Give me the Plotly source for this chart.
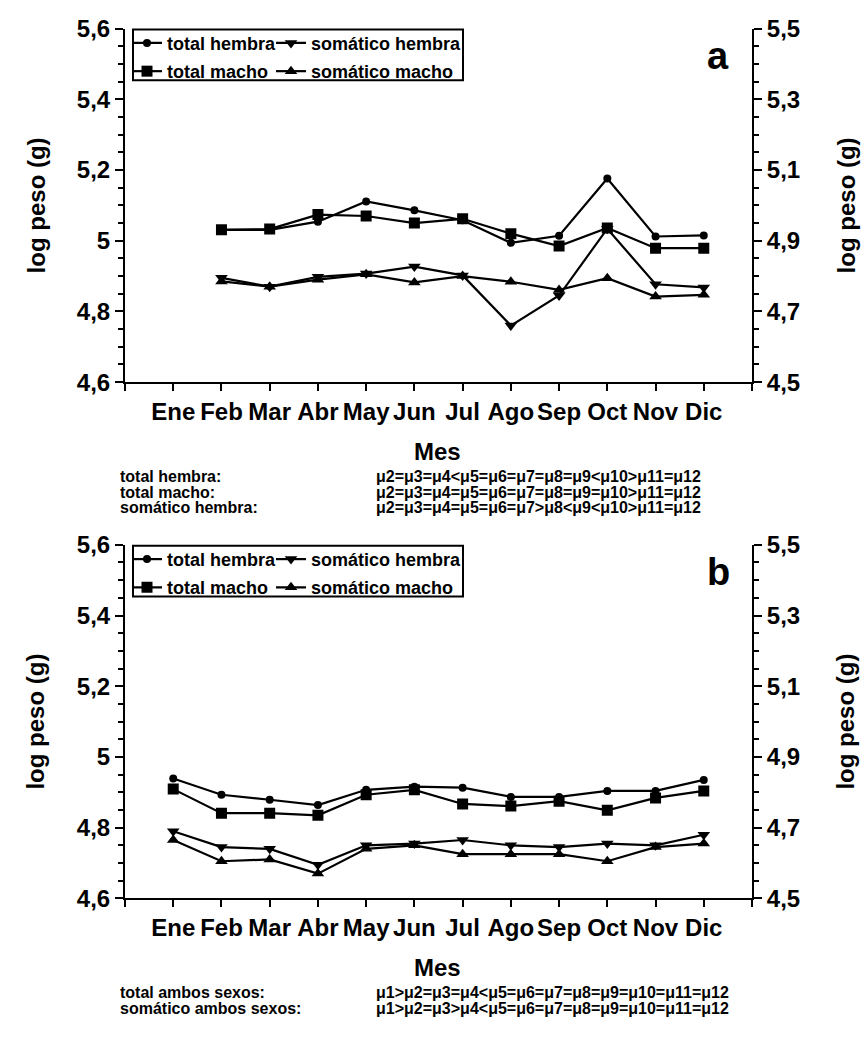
import plotly.graph_objects as go

W, H = 868, 1037

MESES = ["Ene", "Feb", "Mar", "Abr", "May", "Jun", "Jul", "Ago", "Sep", "Oct", "Nov", "Dic"]

# Panel a: months Feb-Dic
meses_a = MESES[1:]
total_hembra_a = [5.031, 5.031, 5.054, 5.111, 5.086, 5.058, 4.994, 5.014, 5.176, 5.012, 5.015]
total_macho_a = [5.031, 5.033, 5.074, 5.070, 5.050, 5.062, 5.020, 4.985, 5.036, 4.979, 4.979]
somatico_hembra_a = [4.895, 4.870, 4.898, 4.907, 4.927, 4.902, 4.760, 4.845, 5.034, 4.877, 4.868]
somatico_macho_a = [4.885, 4.870, 4.890, 4.905, 4.882, 4.900, 4.884, 4.861, 4.894, 4.842, 4.847]

# Panel b: months Ene-Dic
meses_b = MESES
total_hembra_b = [4.939, 4.893, 4.879, 4.864, 4.907, 4.916, 4.913, 4.887, 4.887, 4.904, 4.904, 4.935]
total_macho_b = [4.909, 4.841, 4.841, 4.835, 4.893, 4.907, 4.867, 4.861, 4.875, 4.849, 4.884, 4.904]
somatico_hembra_b = [4.790, 4.745, 4.740, 4.695, 4.750, 4.755, 4.765, 4.750, 4.745, 4.755, 4.750, 4.780]
somatico_macho_b = [4.765, 4.705, 4.710, 4.670, 4.740, 4.750, 4.725, 4.725, 4.725, 4.705, 4.745, 4.755]

left_ticks = [4.6, 4.8, 5.0, 5.2, 5.4, 5.6]
left_labels = ["4,6", "4,8", "5", "5,2", "5,4", "5,6"]
right_ticks = [4.5, 4.7, 4.9, 5.1, 5.3, 5.5]
right_labels = ["4,5", "4,7", "4,9", "5,1", "5,3", "5,5"]

notas_a = [
    ("total hembra:", "μ2=μ3=μ4<μ5=μ6=μ7=μ8=μ9<μ10>μ11=μ12"),
    ("total macho:", "μ2=μ3=μ4=μ5=μ6=μ7=μ8=μ9=μ10>μ11=μ12"),
    ("somático hembra:", "μ2=μ3=μ4=μ5=μ6=μ7>μ8<μ9<μ10>μ11=μ12"),
]
notas_b = [
    ("total ambos sexos:", "μ1>μ2=μ3=μ4<μ5=μ6=μ7=μ8=μ9=μ10=μ11=μ12"),
    ("somático ambos sexos:", "μ1>μ2=μ3>μ4<μ5=μ6=μ7=μ8=μ9=μ10=μ11=μ12"),
]

FONT = "Liberation Sans, Arial, sans-serif"


def px_x(x):
    return x / W


def px_y(y):
    return 1 - y / H


def month_pos(names):
    return [MESES.index(m) + 1 for m in names]


# pixel geometry of the two panels
X0, X1 = 125, 752
PANELS = [(15, 378), (545, 908)]

# name, marker, size, legend column, legend row
series_style = [
    ("total hembra", "circle", 8, 0, 0),
    ("somático hembra", "triangle-down", 11, 1, 0),
    ("total macho", "square", 11, 0, 1),
    ("somático macho", "triangle-up", 11, 1, 1),
]
LEG_COL_X = [127, 271]
LEG_ROW_DY = [15, 44]

fig = go.Figure()

panel_data = [
    (meses_a, [total_hembra_a, somatico_hembra_a, total_macho_a, somatico_macho_a]),
    (meses_b, [total_hembra_b, somatico_hembra_b, total_macho_b, somatico_macho_b]),
]

legends = {}
for p, (meses, series) in enumerate(panel_data):
    xa = "x" if p == 0 else "x2"
    ya = "y" if p == 0 else "y3"
    ya_right = "y2" if p == 0 else "y4"
    top = PANELS[p][0]
    for i, ((name, sym, size, col, row), vals) in enumerate(zip(series_style, series)):
        idx = 4 * p + i + 1
        leg = "legend" if idx == 1 else f"legend{idx}"
        legends[leg] = dict(
            orientation="h", x=px_x(LEG_COL_X[col]), xanchor="left",
            y=px_y(top + LEG_ROW_DY[row]), yanchor="middle", itemwidth=30,
            bgcolor="rgba(0,0,0,0)", borderwidth=0, visible=True,
            font=dict(family=FONT, size=18, color="black", weight="bold"),
        )
        fig.add_trace(go.Scatter(
            x=month_pos(meses), y=vals, name=name, mode="lines+markers",
            xaxis=xa, yaxis=ya, legend=leg, showlegend=True,
            line=dict(color="black", width=2.2),
            marker=dict(symbol=sym, size=size, color="black"),
        ))
    # keeps the right-hand scale drawn
    fig.add_trace(go.Scatter(x=[], y=[], xaxis=xa, yaxis=ya_right, showlegend=False,
                             hoverinfo="skip"))

tick_font = dict(family=FONT, size=24, color="black", weight="bold")
xdom = [px_x(X0), px_x(X1)]

layout = dict(
    width=W, height=H, margin=dict(l=0, r=0, t=0, b=0),
    paper_bgcolor="white", plot_bgcolor="white", showlegend=True,
    font=dict(family=FONT, color="black", weight="bold"),
    **legends,
)

for p, (top, bot) in enumerate(PANELS):
    ydom = [px_y(bot), px_y(top)]
    xk = "xaxis" if p == 0 else "xaxis2"
    yk = "yaxis" if p == 0 else "yaxis3"
    yrk = "yaxis2" if p == 0 else "yaxis4"
    yname = "y" if p == 0 else "y3"
    xname = "x" if p == 0 else "x2"
    layout[xk] = dict(
        domain=xdom, anchor=yname, range=[0, 13],
        tickmode="array", tickvals=list(range(14)),
        ticktext=[""] + MESES + [""],
        ticks="outside", ticklen=7, tickwidth=2, tickcolor="black",
        showline=True, linecolor="black", linewidth=2,
        showgrid=False, zeroline=False, tickfont=tick_font,
    )
    layout[yk] = dict(
        domain=ydom, anchor=xname, range=[4.6, 5.6],
        tickmode="array", tickvals=left_ticks, ticktext=left_labels,
        ticks="outside", ticklen=8, tickwidth=2, tickcolor="black",
        minor=dict(tickmode="linear", tick0=4.6, dtick=0.05, ticks="outside",
                   ticklen=5, tickwidth=1.5, tickcolor="black"),
        showline=True, linecolor="black", linewidth=2,
        showgrid=False, zeroline=False, tickfont=tick_font,
    )
    layout[yrk] = dict(
        overlaying=yname, side="right", anchor=xname, range=[4.5, 5.5],
        tickmode="array", tickvals=right_ticks, ticktext=right_labels,
        ticks="outside", ticklen=8, tickwidth=2, tickcolor="black",
        minor=dict(tickmode="linear", tick0=4.5, dtick=0.05, ticks="outside",
                   ticklen=5, tickwidth=1.5, tickcolor="black"),
        showline=True, linecolor="black", linewidth=2,
        showgrid=False, zeroline=False, tickfont=tick_font,
    )

fig.update_layout(**layout)

shapes = []
annotations = []


def label(text, x, y, size, angle=0, xanchor="center"):
    annotations.append(dict(text=text, x=px_x(x), y=px_y(y), xref="paper", yref="paper",
                            xanchor=xanchor, yanchor="middle", textangle=angle,
                            showarrow=False,
                            font=dict(family=FONT, size=size, color="black", weight="bold")))


for p, (top, bot) in enumerate(PANELS):
    # legend frame
    shapes.append(dict(type="rect", xref="paper", yref="paper",
                       x0=px_x(133), x1=px_x(463), y0=px_y(top + 53), y1=px_y(top + 1),
                       line=dict(color="black", width=2), fillcolor="rgba(0,0,0,0)"))
    cy = (top + bot) / 2
    label("log peso (g)", 36, cy, 24, angle=-90)
    label("log peso (g)", 846, cy, 24, angle=-90)
    label("a" if p == 0 else "b", 718, top + 28, 38)
    label("Mes", 437, bot + 71, 24)
    notas = notas_a if p == 0 else notas_b
    for j, (lab, form) in enumerate(notas):
        yy = bot + 97 + 16 * j
        label(lab, 118, yy, 16, xanchor="left")
        label(form, 374, yy, 16, xanchor="left")

fig.update_layout(shapes=shapes, annotations=annotations)
fig.write_html("out.html")
